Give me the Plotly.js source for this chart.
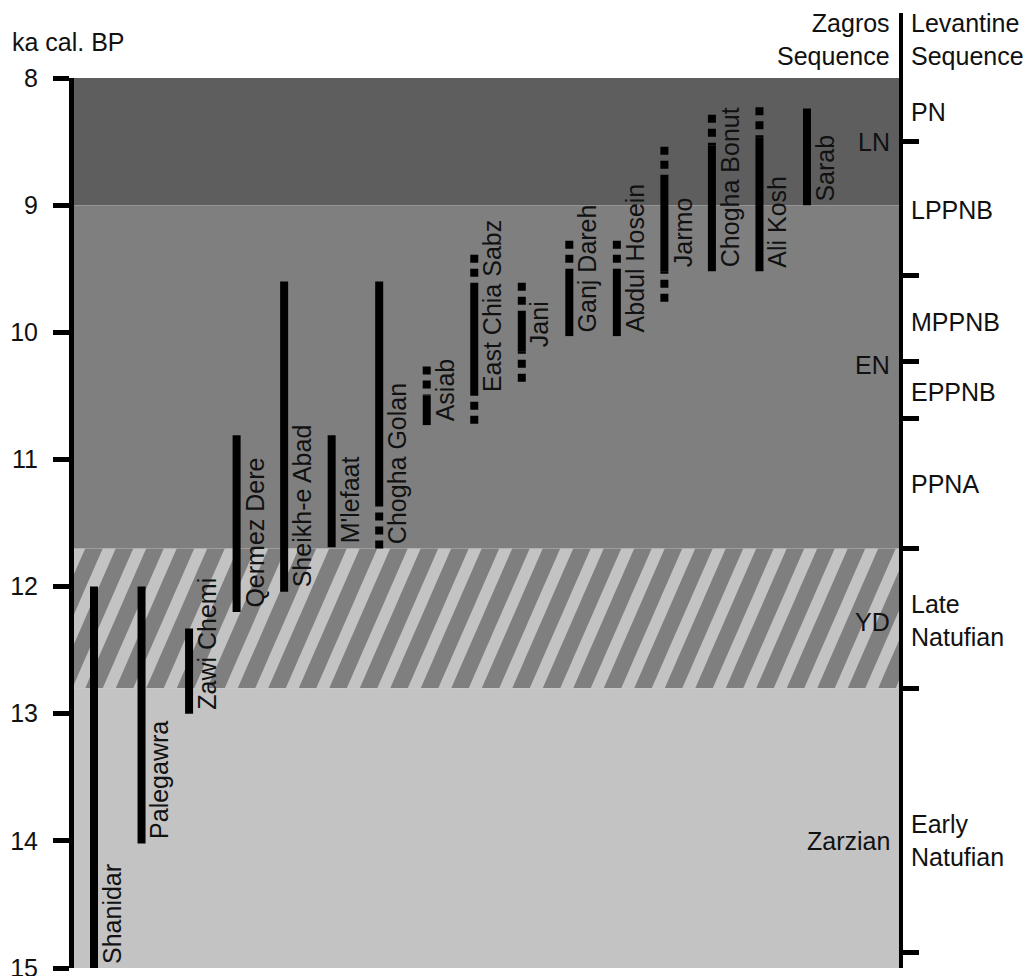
<!DOCTYPE html>
<html>
<head>
<meta charset="utf-8">
<script src="https://cdn.plot.ly/plotly-3.0.1.min.js"></script>
<style>
  html, body { margin: 0; padding: 0; background: #ffffff; }
  #chart { width: 1029px; height: 976px; }
</style>
</head>
<body>
<div id="chart"></div>
<script>
// Occupation spans of Zagros sites (ka cal. BP). Solid = dated span,
// dotted = uncertain extension; the dotted values give the outer end.
const sites = ['Shanidar', 'Palegawra', 'Zawi Chemi', 'Qermez Dere', 'Sheikh-e Abad', "M'lefaat",
  'Chogha Golan', 'Asiab', 'East Chia Sabz', 'Jani', 'Ganj Dareh', 'Abdul Hosein',
  'Jarmo', 'Chogha Bonut', 'Ali Kosh', 'Sarab'];
const solidStart = [12.0, 12.0, 12.33, 10.81, 9.6, 10.81, 9.6, 10.5, 9.61, 9.84, 9.5, 9.5, 8.77, 8.53, 8.47, 8.24];
const solidEnd   = [15.0, 14.02, 13.0, 12.2, 12.04, 11.69, 11.35, 10.73, 10.5, 10.15, 10.03, 10.03, 9.52, 9.52, 9.52, 9.0];
const dottedTop    = [null, null, null, null, null, null, null, 10.27, 9.39, 9.61, 9.28, 9.28, 8.54, 8.29, 8.23, null];
const dottedBottom = [null, null, null, null, null, null, 11.7, null, 10.72, 10.39, null, null, 9.76, null, null, null];

// Age axis
const yTicks = [8, 9, 10, 11, 12, 13, 14, 15];

// Background periods: Late Neolithic, Early Neolithic, Younger Dryas, Zarzian
const bandStart = [8, 9, 11.7, 12.8];
const bandEnd   = [9, 11.7, 12.8, 15];
const hatchBand = [11.7, 12.8];

// Levantine sequence (right-hand scale)
const levantineBounds = [8.5, 9.55, 10.23, 10.68, 11.7, 12.8, 14.88];
const levantineLabels = ['PN', 'LPPNB', 'MPPNB', 'EPPNB', 'PPNA', 'Late<br>Natufian', 'Early<br>Natufian'];
const levantineLabelY = [8.27, 9.04, 9.92, 10.47, 11.19, 12.27, 14.0];

// Zagros sequence labels
const zagrosLabels = ['LN', 'EN', 'YD', 'Zarzian'];
const zagrosLabelY = [8.5, 10.26, 12.28, 14.0];

// ---------- layout geometry ----------
const W = 1029, H = 976;
const M = { l: 74, r: 130, t: 78, b: 8 };
const plotW = W - M.l - M.r, plotH = H - M.t - M.b;
const xRange = [-0.421, 16.936];
const yRange = [15, 8];
const pxPerX = plotW / (xRange[1] - xRange[0]);
const px2x = px => xRange[0] + (px - M.l) / pxPerX;
const px2paperX = px => (px - M.l) / plotW;
const px2paperY = py => (H - M.b - py) / plotH;

const FONT = 'Liberation Sans, Arial, Helvetica, sans-serif';
const INK = '#111111';
const bandColor = ['#5e5e5e', '#7f7f7f', '#7f7f7f', '#c3c3c3'];
const hatchColor = '#c3c3c3';
const labelAtDottedEnd = ['Chogha Golan'];

// ---------- traces ----------
const idx = sites.map((_, i) => i);

function segments(from, to) {
  const xs = [], ys = [];
  idx.forEach(i => {
    if (from[i] == null || to[i] == null) return;
    xs.push(i, i, null);
    ys.push(from[i], to[i], null);
  });
  return { xs, ys };
}

const solid = segments(solidStart, solidEnd);
const dotTop = segments(dottedTop, solidStart);      // drawn from outer end inward
const dotBot = segments(dottedBottom, solidEnd);

const traces = [
  { type: 'scatter', mode: 'lines', x: solid.xs, y: solid.ys, connectgaps: false,
    line: { color: '#000000', width: 8 }, hoverinfo: 'skip', showlegend: false },
  { type: 'scatter', mode: 'lines', x: dotTop.xs, y: dotTop.ys, connectgaps: false,
    line: { color: '#000000', width: 8, dash: '8px,6px' }, hoverinfo: 'skip', showlegend: false },
  { type: 'scatter', mode: 'lines', x: dotBot.xs, y: dotBot.ys, connectgaps: false,
    line: { color: '#000000', width: 8, dash: '8px,6px' }, hoverinfo: 'skip', showlegend: false },
  // keeps the Levantine scale drawn
  { type: 'scatter', mode: 'lines', x: [], y: [], yaxis: 'y2', hoverinfo: 'skip', showlegend: false }
];

// ---------- shapes ----------
const shapes = [];
bandStart.forEach((s, k) => {
  shapes.push({ type: 'rect', layer: 'below', xref: 'paper', yref: 'y',
    x0: 0, x1: 1, y0: s, y1: bandEnd[k], fillcolor: bandColor[k], line: { width: 0 } });
});

// diagonal hatching over the Younger Dryas band
const hatchPeriod = 30.5, hatchWidth = 13, hatchRun = 61, hatchPhase = 651.7;
let xt = hatchPhase - Math.ceil((hatchPhase - (M.l - hatchWidth)) / hatchPeriod) * hatchPeriod;
for (; xt < W - M.r + hatchRun; xt += hatchPeriod) {
  const yb = hatchBand[1], ytop = hatchBand[0];
  const p = [
    [px2x(xt - hatchRun), yb], [px2x(xt - hatchRun + hatchWidth), yb],
    [px2x(xt + hatchWidth), ytop], [px2x(xt), ytop]
  ];
  shapes.push({ type: 'path', layer: 'below', xref: 'x', yref: 'y',
    path: 'M' + p.map(q => q[0].toFixed(4) + ',' + q[1]).join('L') + 'Z',
    fillcolor: hatchColor, line: { width: 0 } });
}

// right-hand scale line continues up between the two sequence headers
shapes.push({ type: 'line', xref: 'paper', yref: 'paper',
  xsizemode: 'pixel', xanchor: 1, x0: 2, x1: 2,
  ysizemode: 'pixel', yanchor: 1, y0: 0, y1: M.t - 13,
  line: { color: '#000000', width: 4 } });

// ---------- annotations ----------
const txt = (size) => ({ family: FONT, size: size || 25, color: INK });
const annotations = [];

// site names beside their bars
idx.forEach(i => {
  const base = labelAtDottedEnd.includes(sites[i]) && dottedBottom[i] != null ? dottedBottom[i] : solidEnd[i];
  annotations.push({ x: i, y: base, xref: 'x', yref: 'y', text: sites[i], textangle: -90,
    xanchor: 'center', yanchor: 'bottom', xshift: 18, yshift: 2, showarrow: false, font: txt() });
});

levantineLabels.forEach((t, k) => {
  annotations.push({ x: px2paperX(909), y: levantineLabelY[k], xref: 'paper', yref: 'y', text: t,
    xanchor: 'left', yanchor: 'middle', align: 'left', showarrow: false, font: txt() });
});
zagrosLabels.forEach((t, k) => {
  annotations.push({ x: px2paperX(892), y: zagrosLabelY[k], xref: 'paper', yref: 'y', text: t,
    xanchor: 'right', yanchor: 'middle', align: 'right', showarrow: false, font: txt() });
});

annotations.push({ x: px2paperX(892), y: px2paperY(40), xref: 'paper', yref: 'paper',
  text: 'Zagros<br>Sequence', xanchor: 'right', yanchor: 'middle', align: 'right', showarrow: false, font: txt() });
annotations.push({ x: px2paperX(909), y: px2paperY(40), xref: 'paper', yref: 'paper',
  text: 'Levantine<br>Sequence', xanchor: 'left', yanchor: 'middle', align: 'left', showarrow: false, font: txt() });
annotations.push({ x: px2paperX(10), y: px2paperY(42), xref: 'paper', yref: 'paper',
  text: 'ka cal. BP', xanchor: 'left', yanchor: 'middle', showarrow: false, font: txt() });

// ---------- layout ----------
const layout = {
  width: W, height: H,
  margin: { l: M.l, r: M.r, t: M.t, b: M.b, pad: 0 },
  paper_bgcolor: '#ffffff', plot_bgcolor: '#ffffff',
  font: txt(),
  showlegend: false,
  xaxis: { range: xRange, visible: false, fixedrange: true },
  yaxis: {
    range: yRange, tickvals: yTicks, ticktext: yTicks.map(String),
    ticks: 'outside', ticklen: 16, tickwidth: 5, tickcolor: '#000000',
    showline: true, linewidth: 5, linecolor: '#000000',
    showgrid: false, zeroline: false, tickfont: txt(), ticklabelstandoff: 10,
    ticklabeloverflow: 'allow', fixedrange: true
  },
  yaxis2: {
    overlaying: 'y', side: 'right', anchor: 'x', range: yRange,
    tickvals: levantineBounds, showticklabels: false,
    ticks: 'outside', ticklen: 16, tickwidth: 5, tickcolor: '#000000',
    showline: true, linewidth: 4, linecolor: '#000000',
    showgrid: false, zeroline: false, fixedrange: true
  },
  shapes: shapes,
  annotations: annotations
};

Plotly.newPlot('chart', traces, layout, { displayModeBar: false, staticPlot: true });
</script>
</body>
</html>
